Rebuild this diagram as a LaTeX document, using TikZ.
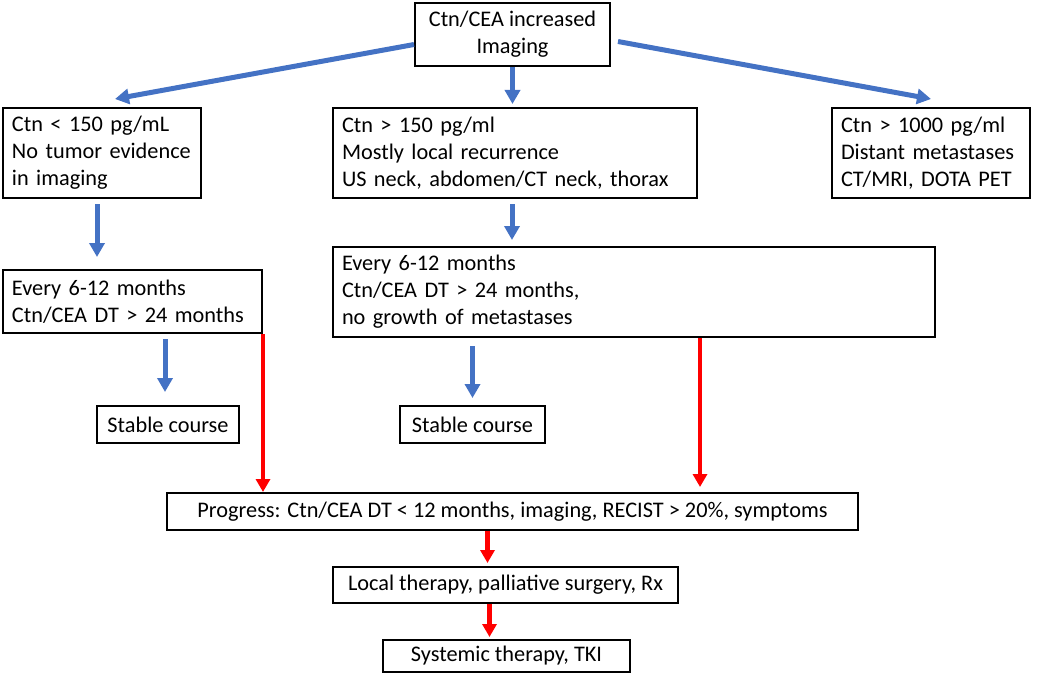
\documentclass[tikz,border=0pt]{standalone}
\usepackage{fontspec}
\setmainfont{Carlito}
\usetikzlibrary{arrows.meta, positioning}
\definecolor{flowblue}{RGB}{68,114,196}
\definecolor{flowred}{RGB}{255,0,0}

\tikzset{
    box/.style={draw,line width=2pt,inner xsep=9pt,inner ysep=0pt,align=left,
        font=\fontsize{22.3}{27}\selectfont},
    bluearrow/.style={flowblue,line width=5pt,-{Triangle[width=15pt,length=14pt]}},
    redarrow/.style={flowred,line width=4.5pt,-{Triangle[width=14pt,length=13pt]}}
}

\begin{document}
\begin{tikzpicture}[x=1pt,y=-1pt]
    \useasboundingbox (0,0) rectangle (1038,674);

    % start
    \node[box,align=center,minimum width=195,minimum height=63] (start) at (512.5,34.5)
        {Ctn/CEA increased\\Imaging};

    % first level
    \node[box,text width=180,minimum height=90] (low) at (102,153)
        {Ctn < 150 pg/mL\\No tumor evidence\\in imaging};
    \node[box,text width=346,minimum height=90] (mid) at (515,153)
        {Ctn > 150 pg/ml\\Mostly local recurrence\\US neck, abdomen/CT neck, thorax};
    \node[box,text width=180,minimum height=90] (high) at (931,153)
        {Ctn > 1000 pg/ml\\Distant metastases\\CT/MRI, DOTA PET};

    % follow-up
    \node[box,text width=241,minimum height=63] (lowcheck) at (132.5,301.5)
        {Every 6-12 months\\Ctn/CEA DT > 24 months};
    \node[box,text width=584,minimum height=90] (midcheck) at (634,292)
        {Every 6-12 months\\Ctn/CEA DT > 24 months,\\no growth of metastases};

    % stable
    \node[box,align=center,minimum width=142,minimum height=37] (lowstable) at (168,424.5) {Stable course};
    \node[box,align=center,minimum width=145,minimum height=37] (midstable) at (472.5,424.5) {Stable course};

    % progress and therapy
    \node[box,align=center,minimum width=691,minimum height=37] (prog) at (512.5,511.5)
        {Progress: Ctn/CEA DT < 12 months, imaging, RECIST > 20\%, symptoms};
    \node[box,align=center,minimum width=345,minimum height=36] (local) at (505.5,585)
        {Local therapy, palliative surgery, Rx};
    \node[box,align=center,minimum width=247,minimum height=32] (sys) at (506.5,656)
        {Systemic therapy, TKI};

    % Blue arrows
    \draw[bluearrow] ([yshift=-10pt]start.west) -- ([xshift=13pt,yshift=8pt]low.north);
    \draw[bluearrow,shorten >=3pt] (start.south) -- (start.south |- mid.north);
    \draw[bluearrow] ([xshift=7pt,yshift=-7pt]start.east) -- ([yshift=8pt]high.north);
    \draw[bluearrow,shorten <=5pt,shorten >=12pt] ([xshift=-5pt]low.south) -- ([xshift=-5pt]low.south |- lowcheck.north);
    \draw[bluearrow,shorten <=5pt,shorten >=6pt] ([xshift=-3pt]mid.south) -- ([xshift=-3pt]mid.south |- midcheck.north);
    \draw[bluearrow,shorten <=5pt,shorten >=13pt] ([xshift=-3pt]lowstable.north |- lowcheck.south) -- ([xshift=-3pt]lowstable.north);
    \draw[bluearrow,shorten <=8pt,shorten >=7pt] (midstable.north |- midcheck.south) -- (midstable.north);

    % Red arrows
    \draw[redarrow] (lowcheck.south east) -- (lowcheck.south east |- prog.north);
    \draw[redarrow,shorten >=5pt] ([xshift=66pt]midcheck.south) -- ([xshift=66pt]midcheck.south |- prog.north);
    \draw[redarrow,shorten >=3pt] ([xshift=-18pt]local.north |- prog.south) -- ([xshift=-18pt]local.north);
    \draw[redarrow,shorten >=2pt] ([xshift=-17pt]sys.north |- local.south) -- ([xshift=-17pt]sys.north);
\end{tikzpicture}
\end{document}
